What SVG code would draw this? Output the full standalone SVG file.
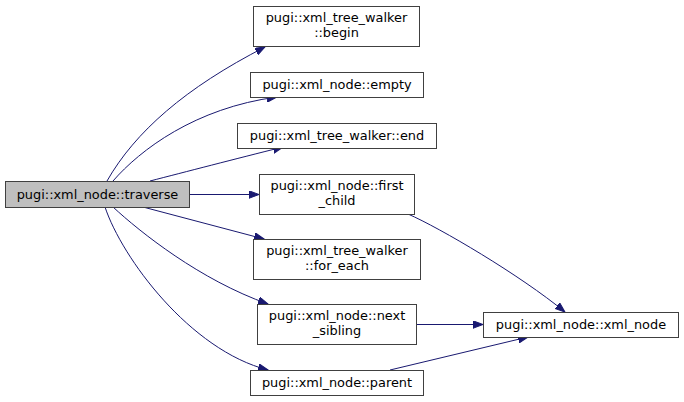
<svg xmlns="http://www.w3.org/2000/svg" width="684" height="402" viewBox="0 0 684 402">
<style>
.n rect{fill:#ffffff;stroke:#404040;stroke-width:1}
.n.h rect{fill:#bfbfbf;stroke:#404040}
.n text{font-family:"DejaVu Sans","Liberation Sans",sans-serif;font-size:12.9px;fill:#000000;text-anchor:middle}
.e path{fill:none;stroke:#191970;stroke-width:1}
</style>
<defs>
<marker id="ah" markerUnits="userSpaceOnUse" markerWidth="11" markerHeight="8" refX="10" refY="3.75" orient="auto">
<path d="M0,0 L10,3.75 L0,7.5 z" fill="#191970" stroke="#191970" stroke-width="1"/>
</marker>
</defs>
<rect width="684" height="402" fill="#ffffff"/>
<g id="connectors" class="e">
<path d="M107,181 C135,132 185,88 265,47" marker-end="url(#ah)"/>
<path d="M113,181 C140,150 195,108 277,97" marker-end="url(#ah)"/>
<path d="M150,181 C185,172 235,159 283,147" marker-end="url(#ah)"/>
<path d="M189,194.5 L259,194.5" marker-end="url(#ah)"/>
<path d="M143,207 L264,239" marker-end="url(#ah)"/>
<path d="M113,207 C140,232 200,280 268,304" marker-end="url(#ah)"/>
<path d="M105,207 C122,258 190,350 268,370" marker-end="url(#ah)"/>
<path d="M408,214 C440,228 520,275 565,312" marker-end="url(#ah)"/>
<path d="M416,324.5 L483,324.5" marker-end="url(#ah)"/>
<path d="M390,370 L528,337" marker-end="url(#ah)"/>
</g>
<g id="node-traverse" class="n h">
<rect x="5.5" y="181.5" width="184" height="26"/>
<text x="97.5" y="198.5">pugi::xml_node::traverse</text>
</g>
<g id="node-begin" class="n">
<rect x="253.5" y="6.5" width="166" height="40"/>
<text x="336.5" y="22">pugi::xml_tree_walker</text>
<text x="336.5" y="37">::begin</text>
</g>
<g id="node-empty" class="n">
<rect x="250.5" y="72.5" width="173" height="25"/>
<text x="337" y="88.5">pugi::xml_node::empty</text>
</g>
<g id="node-end" class="n">
<rect x="237.5" y="123.5" width="199" height="25"/>
<text x="337" y="139.5">pugi::xml_tree_walker::end</text>
</g>
<g id="node-first-child" class="n">
<rect x="259.5" y="174.5" width="155" height="40"/>
<text x="337" y="190">pugi::xml_node::first</text>
<text x="337" y="205">_child</text>
</g>
<g id="node-for-each" class="n">
<rect x="253.5" y="239.5" width="167" height="40"/>
<text x="337" y="255">pugi::xml_tree_walker</text>
<text x="337" y="270">::for_each</text>
</g>
<g id="node-next-sibling" class="n">
<rect x="257.5" y="304.5" width="159" height="40"/>
<text x="337" y="320">pugi::xml_node::next</text>
<text x="337" y="335">_sibling</text>
</g>
<g id="node-parent" class="n">
<rect x="250.5" y="370.5" width="173" height="25"/>
<text x="337" y="386.5">pugi::xml_node::parent</text>
</g>
<g id="node-xml-node" class="n">
<rect x="483.5" y="312.5" width="195" height="25"/>
<text x="581" y="328.5">pugi::xml_node::xml_node</text>
</g>
</svg>
